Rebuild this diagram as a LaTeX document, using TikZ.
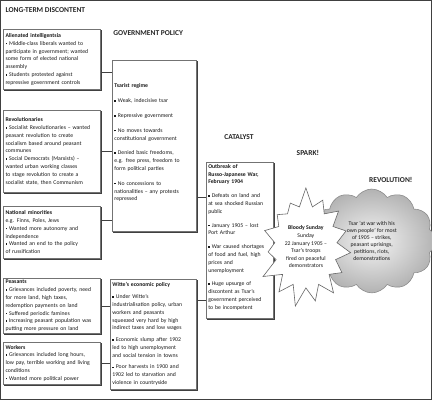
\documentclass[tikz,border=0pt]{standalone}
\usepackage{fontspec}
\setmainfont{Carlito}
\usetikzlibrary{shapes.symbols, shadows, positioning}

\newcommand{\itm}{\par\noindent\hangindent=2.5pt\hangafter=1\makebox[3.5pt][l]{\raisebox{.35ex}{\rule{1.5pt}{1.5pt}}}}
\newcommand{\itemgap}[1]{\par\vspace{#1}}

\begin{document}
\begin{tikzpicture}[
  x=1pt, y=-1pt,
  box/.style={draw=black!55, fill=white, line width=.5pt, anchor=north west,
              inner sep=2pt, align=left, text=black!90,
              font=\fontsize{5.75}{7.8}\selectfont,
              drop shadow={shadow xshift=.8pt, shadow yshift=-.8pt, fill=black!35, opacity=1}},
  side/.style={box, text width=93pt, minimum width=97pt},
  head/.style={font=\fontsize{7.5}{9}\selectfont\bfseries, text=black!85, inner sep=0pt},
  every path/.style={line width=.6pt, draw=black!75},
]
\useasboundingbox (0,0) rectangle (432,400);

% headings
\node[head, anchor=west] (hlong) at (5,10) {LONG-TERM DISCONTENT};
\node[head, anchor=west] (hgov)  at (113,33) {GOVERNMENT POLICY};
\node[head] (hcat) at (239,137) {CATALYST};
\node[head] (hspk) at (308,153) {SPARK!};
\node[head] (hrev) at (391,180) {REVOLUTION!};

% long-term discontent
\node[side, minimum height=60pt] (alien) at (3,29) {\textbf{Alienated intelligentsia}
  \itm Middle-class liberals wanted to\\participate in government; wanted\\some form of elected national\\assembly
  \itm Students protested against\\repressive government controls};
\node[side, minimum height=82pt] (revol) at (3,110) {\textbf{Revolutionaries}
  \itm Socialist Revolutionaries -- wanted\\peasant revolution to create\\socialism based around peasant\\communes
  \itm Social Democrats (Marxists) --\\wanted urban working classes\\to stage revolution to create a\\socialist state, then Communism};
\node[side, minimum height=52pt] (natmin) at (3,206) {\textbf{National minorities}\\e.g. Finns, Poles, Jews
  \itm Wanted more autonomy and\\independence
  \itm Wanted an end to the policy\\of russification};
\node[side, minimum height=55pt] (peas) at (3,278) {\textbf{Peasants}
  \itm Grievances included poverty, need\\for more land, high taxes,\\redemption payments on land
  \itm Suffered periodic famines
  \itm Increasing peasant population was\\putting more pressure on land};
\node[side, minimum height=42pt] (work) at (3,342) {\textbf{Workers}
  \itm Grievances included long hours,\\low pay, terrible working and living\\conditions
  \itm Wanted more political power};

% government policy
\node[box, text width=80pt, minimum width=84pt, minimum height=171pt] (tsar) at (112,60) {\textbf{Tsarist regime}
  \itemgap{7pt}\itm Weak, indecisive tsar
  \itemgap{7pt}\itm Repressive government
  \itemgap{7pt}\itm No moves towards\\constitutional government
  \itemgap{7pt}\itm Denied basic freedoms,\\e.g. free press, freedom to\\form political parties
  \itemgap{7pt}\itm No concessions to\\nationalities -- any protests\\repressed\itemgap{6pt}};
\node[box, text width=82pt, minimum width=86pt, minimum height=110pt] (witte) at (110,279) {\textbf{Witte's economic policy}
  \itemgap{4pt}\itm Under Witte's\\industrialisation policy, urban\\workers and peasants\\squeezed very hard by high\\indirect taxes and low wages
  \itemgap{4pt}\itm Economic slump after 1902\\led to high unemployment\\and social tension in towns
  \itemgap{4pt}\itm Poor harvests in 1900 and\\1902 led to starvation and\\violence in countryside};

% catalyst
\node[box, text width=63pt, minimum width=67pt, minimum height=156pt] (outb) at (206,162) {\textbf{Outbreak of}\\\textbf{Russo-Japanese War,}\\\textbf{February 1904}
  \itemgap{6pt}\itm Defeats on land and\\at sea shocked Russian\\public
  \itemgap{6pt}\itm January 1905 -- lost\\Port Arthur
  \itemgap{6pt}\itm War caused shortages\\of food and fuel, high\\prices and\\unemployment
  \itemgap{6pt}\itm Huge upsurge of\\discontent as Tsar's\\government perceived\\to be incompetent\itemgap{6pt}};

% revolution and spark
\node[cloud, cloud puffs=12, cloud puff arc=115, cloud ignores aspect,
      minimum width=128pt, minimum height=104pt,
      draw=black!45, inner color=black!4, outer color=black!30, align=center, text=black!90,
      font=\fontsize{5.75}{7.2}\selectfont] (rev) at (372,241)
  {Tsar `at war with his\\own people' for most\\of 1905 -- strikes,\\peasant uprisings,\\petitions, riots,\\demonstrations};
\node[starburst, starburst points=15, starburst point height=20pt, random starburst=7,
      minimum width=82pt, minimum height=122pt, draw=black!60, fill=white, align=center,
      text=black!90, font=\fontsize{5.75}{7.6}\selectfont, inner sep=1pt] (spark) at (306,247)
  {\textbf{Bloody Sunday}\\Sunday\\22 January 1905 --\\Tsar's troops\\fired on peaceful\\demonstrators};

% connectors
\draw ([yshift=-13pt]alien.east) -- ([yshift=-13pt]alien.east -| tsar.west);
\draw (revol.east) -- (revol.east -| tsar.west);
\draw ([yshift=12pt]natmin.east) -- ([yshift=12pt]natmin.east -| tsar.west);
\draw (peas.east) -- (peas.east -| witte.west);
\draw (work.east) -- (work.east -| witte.west);
\coordinate (c1) at ([yshift=43pt]outb.west);
\coordinate (c2) at ([yshift=-60pt]outb.west);
\draw (c1) -- (c1 -| tsar.east);
\draw (c2) -- (c2 -| witte.east);

\end{tikzpicture}
\end{document}
